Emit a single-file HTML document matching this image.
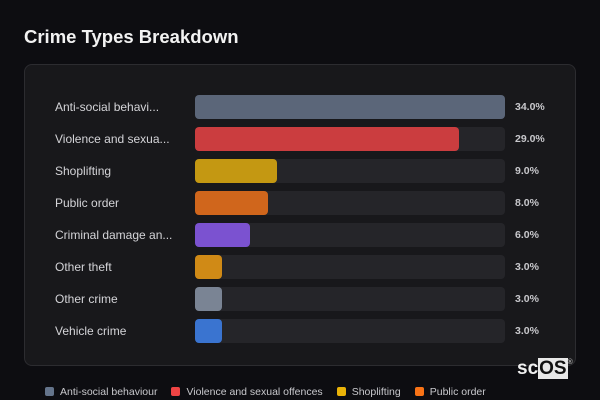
<!DOCTYPE html>
<html><head><meta charset="utf-8"><style>
body{margin:0;width:600px;height:400px;background:#0d0d11;font-family:"Liberation Sans","DejaVu Sans",sans-serif;overflow:hidden;position:relative}
h1{position:absolute;left:24px;top:26px;margin:0;font-size:18.5px;color:#f2f2f2;font-weight:bold}
#panel{position:absolute;left:24px;top:64px;width:550px;height:300px;background:#18181b;border:1px solid #2c2c30;border-radius:8px}
.lbl{position:absolute;left:55px;font-size:12px;color:#d4d4d8;line-height:14px}
.val{position:absolute;left:515px;font-size:10.5px;font-weight:bold;color:#c8c8cc;line-height:14px}
.track{position:absolute;left:195px;width:310px;height:24px;background:#252529;border-radius:4px}
.bar{position:absolute;left:195px;height:24px;border-radius:4px}
#legend{position:absolute;top:386px;left:45px;font-size:10.5px;color:#c8c8cc;white-space:nowrap}
.lg{display:inline-block;margin-right:14px}
.sw{display:inline-block;width:9px;height:9px;border-radius:2px;margin-right:6px;vertical-align:-1px}
#logo{position:absolute;left:517px;top:358px;font-size:19px;font-weight:bold;color:#f0f0f0}
#logo span{background:#e8e8e8;color:#111;padding:0 1px}
#logo sup{font-size:7px;color:#aaa;vertical-align:10px}
</style></head><body>
<h1>Crime Types Breakdown</h1>
<div id="panel"></div>
<div id="rows"></div>
<div id="legend"></div>
<div id="logo">sc<span>OS</span><sup>®</sup></div>
<script>
const labels=["Anti-social behavi...","Violence and sexua...","Shoplifting","Public order","Criminal damage an...","Other theft","Other crime","Vehicle crime"];
const values=[34.0,29.0,9.0,8.0,6.0,3.0,3.0,3.0];
const colors=["#5b6679","#cb3d3f","#c49812","#d0661c","#7b52d0","#d08a16","#7a8494","#3a74d0"];
const legendNames=["Anti-social behaviour","Violence and sexual offences","Shoplifting","Public order"];
const legendColors=["#64748b","#ef4444","#eab308","#f97316"];
const maxV=Math.max(...values);
const x=v=>v/maxV*310;
const y=i=>95+i*32;
const root=document.getElementById('rows');
labels.forEach((l,i)=>{
  const lb=document.createElement('div');lb.className='lbl';lb.style.top=(y(i)+5)+'px';lb.textContent=l;
  
  
  const tr=document.createElement('div');tr.className='track';tr.style.top=y(i)+'px';
  
  
  const b=document.createElement('div');b.className='bar';b.style.top=y(i)+'px';b.style.width=x(values[i])+'px';b.style.background=colors[i];
  
  
  const v=document.createElement('div');v.className='val';v.style.top=(y(i)+5)+'px';v.textContent=values[i].toFixed(1)+'%';
  
  
  root.append(lb,tr,b,v);
});
const lg=document.getElementById('legend');
legendNames.forEach((n,i)=>{
  const e=document.createElement('span');e.className='lg';
  
  
  e.innerHTML='<span class="sw" style="background:'+legendColors[i]+'"></span>'+n;
  lg.appendChild(e);
});
</script>
</body></html>
